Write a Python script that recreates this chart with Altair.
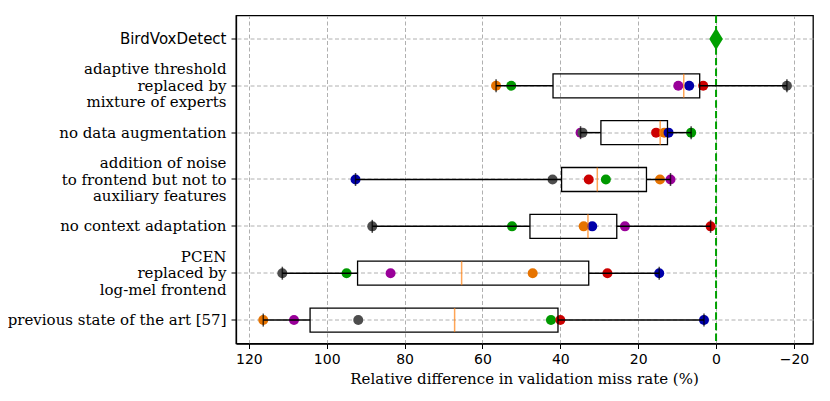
import altair as alt
import pandas as pd

categories = [
    "BirdVoxDetect",
    "adaptive threshold\nreplaced by\nmixture of experts",
    "no data augmentation",
    "addition of noise\nto frontend but not to\nauxiliary features",
    "no context adaptation",
    "PCEN\nreplaced by\nlog-mel frontend",
    "previous state of the art [57]",
]

series = ["purple", "gray", "green", "red", "orange", "blue"]
series_colors = ["#990099", "#4d4d4d", "#009900", "#cc0000", "#e67300", "#0000aa"]

# values in series order: purple, gray, green, red, orange, blue
adaptive = [9.7, -18.2, 52.6, 3.3, 56.5, 6.9]
no_aug = [34.8, 34.3, 6.4, 15.4, 13.3, 12.2]
noise = [11.7, 42.0, 28.3, 32.7, 14.4, 92.6]
no_context = [23.4, 88.3, 52.4, 1.4, 34.0, 31.8]
pcen = [83.6, 111.4, 94.9, 27.9, 47.1, 14.6]
previous = [108.4, 91.9, 42.4, 40.0, 116.3, 3.1]
birdvox = [0.0]

rows = []
for cat, vals in zip(categories[1:], [adaptive, no_aug, noise, no_context, pcen, previous]):
    for i, (s, v) in enumerate(zip(series, vals)):
        rows.append({"category": cat, "series": s, "value": v, "ord": i})
df = pd.DataFrame(rows)
bird = pd.DataFrame({"category": [categories[0]], "value": birdvox})
zero = pd.DataFrame({"value": [0.0]})

xtitle = "Relative difference in validation miss rate (%)"
xscale = alt.Scale(domain=[-24.9, 123.3], reverse=True, nice=False, zero=False)
xaxis = alt.Axis(
    values=[-20, 0, 20, 40, 60, 80, 100, 120],
    format="d",
    labelFont="DejaVu Sans",
    labelFontSize=14,
    labelPadding=4,
    title=None,
)
yenc = alt.Y(
    "category:N",
    scale=alt.Scale(domain=categories, paddingInner=0, paddingOuter=0),
    title=None,
    axis=alt.Axis(
        labelExpr="split(datum.label, '\\n')",
        labelFont={"condition": {"test": "datum.value == 'BirdVoxDetect'", "value": "DejaVu Sans"}, "value": "DejaVu Serif"},
        labelOffset={"condition": {"test": "indexof(datum.value, '\\n') >= 0", "value": -16.5}, "value": 0},
        labelFontSize=15,
        labelLineHeight=16.5,
        labelLimit=400,
        labelPadding=5,
        labelBaseline="middle",
        bandPosition=0.5,
    ),
)


def X(field):
    return alt.X(field, scale=xscale, axis=xaxis, title=None)


base = alt.Chart(df)
stats = base.transform_aggregate(
    mn="min(value)", q1="q1(value)", med="median(value)", q3="q3(value)", mx="max(value)",
    groupby=["category"],
)

zline = alt.Chart(zero).mark_rule(color="#00a000", strokeWidth=2, strokeDash=[7.4, 3.2]).encode(x=X("value:Q"))

points = base.mark_circle(size=100, opacity=1).encode(
    x=X("value:Q"),
    y=yenc,
    color=alt.Color("series:N", scale=alt.Scale(domain=series, range=series_colors), legend=None),
    order=alt.Order("ord:Q"),
)

wl = stats.mark_rule(color="black", strokeWidth=1.5).encode(x=X("mn:Q"), x2="q1:Q", y=yenc)
wr = stats.mark_rule(color="black", strokeWidth=1.5).encode(x=X("q3:Q"), x2="mx:Q", y=yenc)
box = stats.mark_bar(size=24, fillOpacity=0, stroke="black", strokeWidth=1.3).encode(x=X("q1:Q"), x2="q3:Q", y=yenc)
med = stats.mark_tick(size=24, thickness=1.5, color="#ff7f0e", orient="vertical").encode(x=X("med:Q"), y=yenc)
cap1 = stats.mark_tick(size=13, thickness=1.5, color="black", orient="vertical").encode(x=X("mn:Q"), y=yenc)
cap2 = stats.mark_tick(size=13, thickness=1.5, color="black", orient="vertical").encode(x=X("mx:Q"), y=yenc)

diamond = alt.Chart(bird).mark_point(
    shape="M0,-1L0.62,0L0,1L-0.62,0Z", size=484, filled=True, color="#00a000", opacity=1
).encode(x=X("value:Q"), y=yenc)

chart = alt.layer(zline, points, wl, wr, box, med, cap1, cap2, diamond).properties(
    width=577,
    height=328,
    padding={"left": 228, "top": 7.5, "right": 9, "bottom": 49},
    autosize=alt.AutoSizeParams(type="none"),
    title=alt.TitleParams(
        text=xtitle,
        orient="bottom",
        anchor="middle",
        font="DejaVu Serif",
        fontSize=15,
        fontWeight="normal",
        color="black",
        offset=5,
    ),
).configure_view(
    stroke="black", strokeWidth=1.3
).configure_axis(
    grid=True,
    gridColor="#b0b0b0",
    gridDash=[4, 2.5],
    gridWidth=1,
    domainColor="black",
    domainWidth=1.3,
    tickColor="black",
    tickSize=5,
    tickWidth=1,
    labelColor="black",
)

chart.save("out.html", embed_options={"renderer": "svg", "actions": False})
